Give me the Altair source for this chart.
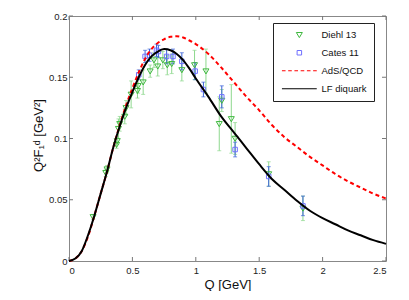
import altair as alt
import pandas as pd

# ---------------- data ----------------
diehl_q = [0.19, 0.29, 0.30, 0.375, 0.38, 0.39, 0.40, 0.44, 0.45, 0.49, 0.54, 0.545, 0.585,
           0.64, 0.67, 0.70, 0.74, 0.775, 0.81, 0.89, 0.99, 1.08, 1.185, 1.205, 1.28, 1.31,
           1.575, 1.845]
diehl_f = [0.036, 0.072, 0.075, 0.095, 0.098, 0.108, 0.112, 0.118, 0.125, 0.136, 0.139, 0.143, 0.146,
           0.155, 0.164, 0.159, 0.164, 0.160, 0.161, 0.156, 0.160, 0.155, 0.112, 0.131, 0.116, 0.100,
           0.071, 0.043]
diehl_e = [0.002, 0.003, 0.003, 0.003, 0.003, 0.008, 0.006, 0.006, 0.006, 0.011, 0.006, 0.006, 0.010,
           0.005, 0.006, 0.008, 0.007, 0.008, 0.008, 0.009, 0.012, 0.018, 0.022, 0.009, 0.028, 0.013,
           0.010, 0.010]

cates_q = [0.55, 0.60, 0.635, 0.69, 0.705, 0.77, 0.82, 0.89, 0.995, 1.06, 1.205, 1.31, 1.575, 1.845]
cates_f = [0.152, 0.167, 0.168, 0.172, 0.171, 0.167, 0.167, 0.163, 0.155, 0.140, 0.134, 0.091, 0.069, 0.045]
cates_e = [0.004, 0.005, 0.005, 0.005, 0.005, 0.006, 0.006, 0.007, 0.007, 0.006, 0.009, 0.006, 0.008, 0.008]

curve_q = [0, 0.05, 0.1, 0.15, 0.2, 0.25, 0.3, 0.35, 0.4, 0.45, 0.5, 0.55, 0.6, 0.65, 0.7, 0.75,
           0.8, 0.85, 0.9, 0.95, 1.0, 1.1, 1.2, 1.3, 1.4, 1.5, 1.6, 1.7, 1.8, 1.9, 2.0, 2.1, 2.2,
           2.3, 2.4, 2.5]
ads_f = [0, 0.002, 0.008, 0.020, 0.037, 0.055, 0.073, 0.093, 0.111, 0.127, 0.141, 0.154, 0.165,
         0.173, 0.178, 0.181, 0.183, 0.1835, 0.1825, 0.180, 0.177, 0.169, 0.158, 0.146, 0.134,
         0.123, 0.111, 0.101, 0.093, 0.085, 0.078, 0.071, 0.065, 0.060, 0.055, 0.051]
lf_f = [0, 0.002, 0.008, 0.021, 0.037, 0.055, 0.073, 0.093, 0.110, 0.125, 0.138, 0.150, 0.160,
        0.167, 0.171, 0.173, 0.172, 0.169, 0.164, 0.157, 0.149, 0.134, 0.118, 0.105, 0.092,
        0.079, 0.067, 0.058, 0.049, 0.041, 0.035, 0.030, 0.025, 0.021, 0.017, 0.014]

series_names = ["Diehl 13", "Cates 11", "AdS/QCD", "LF diquark"]
x_ticks = [0, 0.5, 1, 1.5, 2, 2.5]
y_ticks = [0, 0.05, 0.1, 0.15, 0.2]

# ---------------- tables ----------------
diehl = pd.DataFrame({"Q": diehl_q, "F": diehl_f, "err": diehl_e, "series": "Diehl 13"})
cates = pd.DataFrame({"Q": cates_q, "F": cates_f, "err": cates_e, "series": "Cates 11"})
points = pd.concat([diehl, cates], ignore_index=True)
ads = pd.DataFrame({"Q": curve_q, "F": ads_f})
lf = pd.DataFrame({"Q": curve_q, "F": lf_f})
tx = pd.DataFrame({"Q": x_ticks})
ty = pd.DataFrame({"F": y_ticks})

W, H = 317, 245
FONT = "Liberation Sans"

xs = alt.Scale(domain=[0, 2.5], nice=False, zero=False)
ys = alt.Scale(domain=[0, 0.2], nice=False)
xaxis = alt.Axis(values=x_ticks, format="~g", title="Q [GeV]", titleX=W / 2, titleY=23,
                 titleBaseline="middle", labelPadding=4)
yaxis = alt.Axis(values=y_ticks, format="~g", title="Q²F₁ᵈ [GeV²]", titleX=-31, titleY=119,
                 titleAngle=270, titleAlign="center", titleBaseline="middle", labelPadding=2)
X = alt.X("Q:Q", scale=xs, axis=xaxis)
Y = alt.Y("F:Q", scale=ys, axis=yaxis)

TRI = "M-1,-0.75L1,-0.75L0,0.95Z"
SQ = "M-0.75,-0.75H0.75V0.75H-0.75Z"
DASH = "M-5.8,0H-4.6M-3.72,0H-2.52M-1.64,0H-0.44M0.44,0H1.64M2.52,0H3.72M4.6,0H5.8"
LINE = "M-5.8,0H5.8"

GREEN, GREEN_BAR = "#3fb83f", "#8ed88e"
BLUE, BLUE_BAR = "#7070ff", "#3a62d8"

leg = alt.Legend(orient="none", legendX=204, legendY=7, title=None, fillColor="white",
                 strokeColor="#222", padding=7, rowPadding=7, symbolOffset=14.6,
                 labelOffset=17.4, labelFontSize=9.5, labelFont=FONT, labelColor="#111",
                 symbolSize=36, labelExpr="datum.label + '    '")

def errbars(df, color):
    base = alt.Chart(df).transform_calculate(lo="datum.F - datum.err", hi="datum.F + datum.err")
    bar = base.mark_rule(color=color, strokeWidth=1).encode(
        x=X, y=alt.Y("lo:Q", scale=ys, axis=yaxis), y2="hi:Q")
    cap_lo = base.mark_tick(color=color, orient="horizontal", size=4, thickness=1).encode(
        x=X, y=alt.Y("lo:Q", scale=ys, axis=yaxis))
    cap_hi = base.mark_tick(color=color, orient="horizontal", size=4, thickness=1).encode(
        x=X, y=alt.Y("hi:Q", scale=ys, axis=yaxis))
    return bar + cap_lo + cap_hi

pts = alt.Chart(points).mark_point(filled=False, size=36, opacity=1).encode(
    x=X, y=Y,
    color=alt.Color("series:N", scale=alt.Scale(domain=series_names,
                    range=[GREEN, BLUE, "#ff0000", "#000000"]), legend=leg),
    shape=alt.Shape("series:N", scale=alt.Scale(domain=series_names,
                    range=[TRI, SQ, DASH, LINE]), legend=leg),
    strokeWidth=alt.StrokeWidth("series:N", scale=alt.Scale(domain=series_names,
                    range=[1, 1, 2, 2]), legend=leg),
)

ads_line = alt.Chart(ads).mark_line(color="#ff0000", strokeWidth=2, strokeDash=[4, 3],
                                    interpolate="monotone").encode(x=X, y=Y)
lf_line = alt.Chart(lf).mark_line(color="#000000", strokeWidth=2,
                                  interpolate="monotone").encode(x=X, y=Y)

TC = "#777777"
tick_b = alt.Chart(tx).mark_rule(color=TC).encode(x=X, y=alt.value(H), y2=alt.value(H - 4))
tick_t = alt.Chart(tx).mark_rule(color=TC).encode(x=X, y=alt.value(0), y2=alt.value(4))
tick_l = alt.Chart(ty).mark_rule(color=TC).encode(y=Y, x=alt.value(0), x2=alt.value(4))
tick_r = alt.Chart(ty).mark_rule(color=TC).encode(y=Y, x=alt.value(W), x2=alt.value(W - 4))

chart = alt.layer(
    tick_b, tick_t, tick_l, tick_r,
    errbars(diehl, GREEN_BAR), errbars(cates, BLUE_BAR),
    pts, ads_line, lf_line,
).properties(
    width=W, height=H,
    background="white",
    autosize=alt.AutoSizeParams(type="none"),
    padding={"left": 61, "top": 8, "right": 15, "bottom": 30},
).configure_view(
    stroke="#888888", strokeWidth=1
).configure_axis(
    domain=False, ticks=False, grid=False, labelFont=FONT, labelFontSize=9.5,
    labelColor="#222", titleFont=FONT, titleFontSize=13, titleFontWeight="normal",
    titleColor="#111",
)

chart.save("out.html", embed_options={"renderer": "svg", "actions": False})
